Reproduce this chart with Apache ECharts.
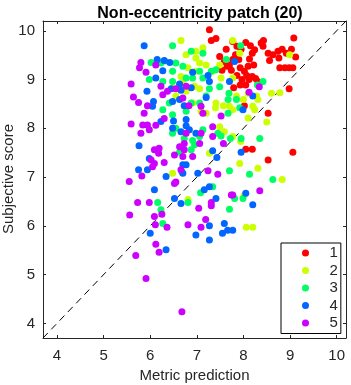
<!DOCTYPE html>
<html><head><meta charset="utf-8">
<script src="https://cdn.jsdelivr.net/npm/echarts@6/dist/echarts.min.js"></script>
<style>html,body{margin:0;padding:0;background:#fff}#c{width:351px;height:385px}</style>
</head><body><div id="c"></div>
<script>
var titleText = 'Non-eccentricity patch (20)';
var xName = 'Metric prediction';
var yName = 'Subjective score';
var tickValues = [4, 5, 6, 7, 8, 9, 10];
var axisMin = 3.7, axisMax = 10.2;
var seriesNames = ['1', '2', '3', '4', '5'];
var colors = ['#ff0000', '#ccff00', '#00ff66', '#0066ff', '#cc00ff'];

var s1 = [[7.27,10.02],[7.31,9.80],[7.41,9.84],[7.63,9.62],[7.77,9.78],[7.86,9.68],[7.95,9.62],[8.05,9.76],[8.15,9.69],[8.19,9.54],[8.24,9.61],[8.38,9.75],[8.43,9.80],[8.42,9.68],[8.53,9.54],[8.63,9.51],[8.74,9.58],[8.83,9.62],[8.92,9.54],[8.76,9.44],[8.56,9.39],[9.08,9.85],[9.12,9.46],[9.03,9.62],[8.78,9.24],[8.89,9.24],[8.98,9.24],[9.06,9.24],[7.49,9.47],[7.59,9.37],[7.70,9.30],[7.77,9.41],[7.83,9.51],[7.90,9.41],[7.93,9.24],[8.02,9.17],[8.07,9.08],[7.97,9.00],[8.12,9.00],[8.19,9.06],[8.26,9.02],[8.31,8.96],[8.22,9.30],[8.10,9.27],[8.13,9.42],[7.74,9.19],[7.65,9.27],[7.54,9.19],[7.86,9.08],[7.93,8.89],[8.05,8.89],[7.79,8.83],[8.98,8.81],[8.53,8.31],[8.02,8.46],[8.05,7.57],[8.19,7.57],[9.06,7.51],[8.53,7.35]];
var s2 = [[6.66,9.80],[6.77,9.51],[6.98,9.58],[7.13,9.65],[7.77,9.80],[7.92,9.54],[8.99,9.51],[6.98,9.44],[6.81,9.24],[7.06,9.34],[6.98,9.17],[7.20,9.30],[7.34,9.17],[7.49,9.30],[7.52,9.03],[7.77,9.03],[6.66,9.06],[6.70,8.93],[7.06,8.81],[6.95,8.86],[6.77,8.76],[6.48,8.83],[6.55,8.66],[8.10,8.72],[8.28,8.66],[8.60,8.72],[8.78,8.73],[8.00,8.59],[7.85,8.66],[7.41,8.52],[7.40,8.42],[7.57,8.46],[7.70,8.45],[7.77,8.38],[8.20,8.45],[8.31,8.59],[8.24,8.38],[8.10,8.21],[8.50,8.13],[7.20,8.31],[7.09,8.35],[6.91,8.52],[7.59,7.93],[7.49,8.03],[7.94,7.73],[7.77,7.83],[7.27,7.49],[7.92,7.28],[8.31,7.18],[8.83,6.95],[6.48,7.08],[6.81,6.54],[8.06,5.97],[8.20,5.97],[8.02,6.63]];
var s3 = [[6.48,9.69],[6.88,9.58],[7.13,9.54],[7.94,9.69],[7.63,9.41],[6.23,9.34],[6.31,9.38],[6.02,9.35],[6.55,9.34],[6.70,9.27],[6.48,9.17],[7.06,9.17],[7.13,9.03],[7.31,9.17],[7.41,9.20],[7.49,8.85],[7.27,8.81],[6.77,9.03],[6.91,9.03],[6.63,8.89],[6.27,8.96],[5.98,9.00],[6.48,8.96],[7.20,8.66],[7.69,8.72],[7.85,8.59],[7.92,8.42],[7.67,8.59],[7.06,8.52],[6.41,8.52],[6.27,8.38],[6.48,8.28],[6.77,8.35],[7.67,8.31],[8.42,8.96],[8.30,8.89],[6.88,8.52],[6.48,7.90],[6.55,8.00],[6.73,7.79],[6.91,7.75],[6.88,7.56],[6.95,7.66],[7.06,7.83],[7.13,7.97],[6.63,7.51],[7.45,7.90],[7.52,7.84],[7.72,7.79],[7.95,7.79],[6.68,7.11],[7.08,6.68],[7.34,6.80],[7.70,7.13],[8.13,7.06],[8.63,6.95],[7.81,6.56],[7.99,6.56],[7.70,6.34],[6.16,6.48],[6.81,6.48],[6.23,6.33],[6.27,6.05],[8.35,7.79]];
var s4 = [[5.87,9.69],[6.30,9.39],[6.42,9.35],[6.15,9.41],[6.27,9.18],[6.12,9.03],[5.93,8.76],[6.07,8.55],[6.05,8.45],[6.91,9.15],[7.24,9.08],[7.27,8.96],[6.63,8.91],[6.45,8.81],[6.66,8.78],[6.88,8.83],[6.63,8.59],[6.48,8.55],[6.73,8.46],[7.20,8.63],[7.70,8.96],[8.20,8.66],[7.81,9.37],[7.99,8.38],[6.23,8.14],[6.50,8.15],[6.77,8.18],[6.48,8.00],[6.66,7.93],[6.77,8.05],[6.84,7.97],[6.98,7.90],[5.76,7.64],[5.75,7.15],[5.94,7.15],[5.98,7.38],[6.34,7.01],[6.09,6.74],[6.52,6.56],[6.66,6.46],[6.70,7.25],[6.77,7.25],[6.70,7.08],[7.02,7.08],[7.34,7.54],[7.43,7.40],[7.95,7.51],[7.16,6.74],[7.27,6.80],[7.41,6.56],[8.05,6.67],[8.20,6.43],[7.59,6.05],[7.27,6.00],[6.98,5.81],[7.55,5.85],[7.66,5.91],[7.77,5.91],[7.27,5.71],[6.00,5.85],[6.34,5.51]];
var s5 = [[5.80,9.35],[5.77,9.24],[5.91,9.15],[6.12,9.30],[5.59,8.91],[6.23,8.86],[6.27,8.69],[5.64,8.64],[5.75,8.53],[5.94,8.46],[5.87,8.31],[6.37,8.76],[6.55,8.81],[6.77,8.86],[6.70,8.62],[6.83,8.46],[7.09,8.45],[7.13,8.31],[8.12,8.74],[8.34,8.85],[7.52,8.25],[6.30,8.20],[6.12,8.06],[5.59,8.09],[5.84,8.07],[5.94,8.07],[5.80,7.90],[5.98,7.97],[6.09,7.56],[6.19,7.59],[6.18,7.49],[6.02,7.35],[6.09,7.28],[6.05,7.21],[6.30,7.30],[6.52,7.45],[6.63,7.62],[6.73,7.69],[6.77,7.90],[6.73,7.56],[6.70,7.42],[6.91,7.42],[7.06,7.69],[7.09,7.90],[7.34,8.03],[7.34,7.83],[7.57,7.69],[5.82,7.02],[5.55,6.91],[6.52,6.87],[6.55,6.90],[6.66,7.15],[7.24,7.13],[7.45,7.06],[7.74,6.63],[7.77,6.63],[8.35,6.72],[5.73,6.48],[5.98,6.48],[6.09,6.19],[6.11,6.02],[6.36,5.97],[6.81,6.02],[7.04,6.36],[7.31,6.41],[7.31,6.48],[7.19,6.13],[7.09,5.97],[5.56,6.22],[6.25,6.24],[6.12,5.62],[6.19,5.46],[5.69,5.39],[5.91,4.92],[6.68,4.24]];
var diagonal = [[axisMin, axisMin], [axisMax, axisMax]];

var allData = [s1, s2, s3, s4, s5];
var txt = '#262626';
var font = "'Liberation Sans', Arial, sans-serif";

function mkAxis(pos, showLabel, name) {
  return {
    type: 'value', position: pos, min: axisMin, max: axisMax,
    name: name || '', nameLocation: 'middle',
    nameGap: 30,
    nameTextStyle: {color: txt, fontSize: 15, fontFamily: font},
    axisLine: {show: true, onZero: false, lineStyle: {color: txt, width: 1}},
    axisTick: {show: true, inside: true, length: 3, customValues: tickValues, lineStyle: {color: txt}},
    axisLabel: {show: showLabel, customValues: tickValues, color: txt, fontSize: 15, fontFamily: font, margin: (pos === 'bottom') ? 10 : 8},
    splitLine: {show: false}
  };
}

var series = allData.map(function (d, i) {
  return {
    name: seriesNames[i], type: 'scatter', data: d, symbolSize: 7,
    itemStyle: {color: colors[i], opacity: 1}, z: 3
  };
});
series.unshift({
  type: 'line', data: diagonal, symbol: 'none', silent: true, z: 2,
  lineStyle: {color: '#000', width: 1, type: [7, 5]}
});

var chart = echarts.init(document.getElementById('c'), null, {renderer: 'canvas'});
chart.setOption({
  animation: false,
  backgroundColor: '#fff',
  title: {text: titleText, left: 195, textAlign: 'center', top: 1,
    textStyle: {color: '#000', fontSize: 16, fontWeight: 'bold', fontFamily: font}},
  grid: {left: 43, right: 5, top: 21, bottom: 47, containLabel: false, outerBoundsMode: 'none'},
  xAxis: [mkAxis('bottom', true, xName), mkAxis('top', false)],
  yAxis: [mkAxis('left', true, ''), mkAxis('right', false)],
  graphic: [{
    type: 'text', x: 9, y: 179, rotation: Math.PI / 2,
    style: {text: yName, fill: txt, font: "15px 'Liberation Sans', Arial, sans-serif", align: 'center', verticalAlign: 'middle'}
  }],
  legend: {
    data: seriesNames, orient: 'vertical', left: 281, top: 243,
    icon: 'circle', itemWidth: 38, itemHeight: 7, itemGap: 2.5,
    padding: [2.5, 3, 3, 21], borderColor: '#000', borderWidth: 1,
    backgroundColor: '#fff',
    textStyle: {color: txt, fontSize: 15, lineHeight: 14, fontFamily: font, padding: [0,0,0,0]}
  },
  series: series
});
</script></body></html>
